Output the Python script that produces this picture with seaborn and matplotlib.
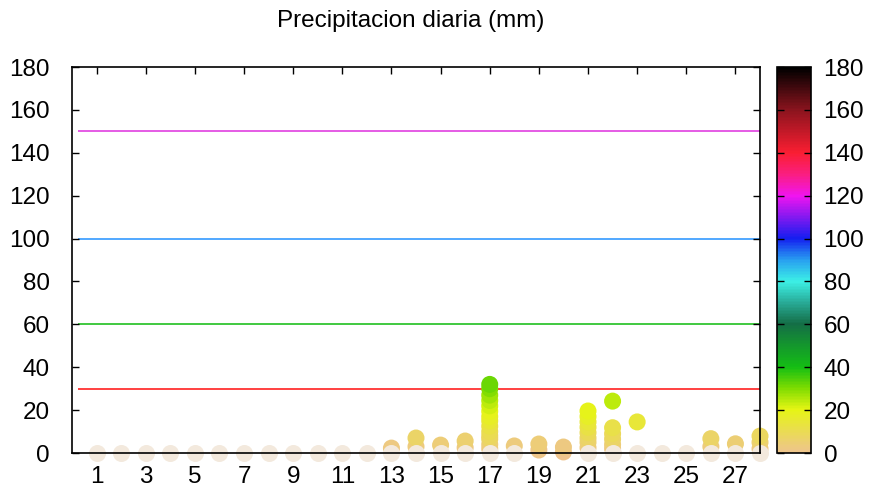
import numpy as np
import pandas as pd
import matplotlib
matplotlib.use("Agg")
import matplotlib.pyplot as plt
import seaborn as sns
from matplotlib.colors import LinearSegmentedColormap, Normalize
from matplotlib.cm import ScalarMappable

# datos: dia del mes y precipitacion (mm) de cada estacion
dias = ([1, 2, 3, 4, 5, 6, 7, 8, 9, 10, 11, 12]
        + [13, 13] + [14, 14, 14] + [15, 15] + [16, 16, 16]
        + [17] * 15 + [18, 18] + [19, 19] + [20, 20]
        + [21] * 9 + [22] * 7 + [23, 23] + [24] + [25]
        + [26, 26, 26] + [27, 27] + [28, 28, 28, 28])
lluvia = ([0] * 12
          + [0, 2.3] + [0, 3, 7] + [0, 3.7] + [0, 2.5, 5.6]
          + [0, 2, 4, 6.5, 8, 10, 12.5, 15, 17, 19.5, 22, 24.5, 27, 30, 32]
          + [0, 3.3] + [1.4, 4.2] + [0.5, 2.8]
          + [0, 2.5, 5, 7, 9.5, 12, 14.5, 17, 19.6]
          + [0, 2, 4, 6.5, 9, 11.8, 24.2] + [0, 14.5] + [0] + [0]
          + [0, 3, 6.7] + [0, 4.3] + [0, 2, 5, 7.9])

umbrales = [30, 60, 100, 150]
colores_umbral = ["#ff2020", "#20c020", "#3399ff", "#e040e0"]
xticks = list(range(1, 28, 2))
yticks = list(range(0, 181, 20))

df = pd.DataFrame({"dia": dias, "mm": lluvia})

# paleta estilo gnuplot
pal_pos = [0, 20, 30, 40, 60, 70, 80, 90, 100, 120, 130, 140, 160, 180]
pal_col = ["#eec48e", "#e6f514", "#7edc00", "#14be14", "#146e46", "#28aa96", "#3cf0e6",
           "#28a0f0", "#141ef0", "#f014f0", "#fa1e82", "#fa1e32", "#8c141e", "#000000"]
cmap = LinearSegmentedColormap.from_list(
    "precip", list(zip([p / 180 for p in pal_pos], pal_col)))
norm = Normalize(0, 180)

plt.rcParams["font.family"] = ["Liberation Sans", "DejaVu Sans"]
fig = plt.figure(figsize=(8.77, 4.95), dpi=100)
ax = fig.add_axes([0.0821, 0.0848, 0.7845, 0.7798])
cax = fig.add_axes([0.886, 0.0848, 0.0388, 0.7798])

for y, c in zip(umbrales, colores_umbral):
    ax.hlines(y, 0.25, 28, color=c, lw=1.2, zorder=1)

con_lluvia = df[df["mm"] > 0]
secos = df[df["mm"] == 0]
sns.scatterplot(data=con_lluvia, x="dia", y="mm", hue="mm", palette=cmap,
                hue_norm=(0, 180), s=150, linewidth=0, legend=False,
                ax=ax, clip_on=False, zorder=3)
sns.scatterplot(data=secos, x="dia", y="mm", color="#f3e9dd", s=150,
                linewidth=0, legend=False, ax=ax, clip_on=False, zorder=4)

ax.set_xlim(0, 28)
ax.set_ylim(0, 180)
ax.set_xticks(xticks)
ax.set_yticks(yticks)
ax.set_xlabel("")
ax.set_ylabel("")
ax.tick_params(direction="in", length=5, width=1, labelsize=17.5,
               top=True, right=True, pad=9)
ax.tick_params(axis="y", pad=16)
for sp in ax.spines.values():
    sp.set_linewidth(1.2)
    sp.set_color("black")
    sp.set_zorder(5)
ax.set_axisbelow(False)
fig.suptitle("Precipitacion diaria (mm)", x=0.468, y=0.98, fontsize=17.5)

cb = fig.colorbar(ScalarMappable(norm=norm, cmap=cmap), cax=cax)
cb.set_ticks(yticks)
cb.ax.tick_params(direction="in", length=5, width=1, labelsize=17.5,
                  left=True, right=True, pad=9)
cb.outline.set_linewidth(1.2)

fig.savefig("out.png", dpi=100)
